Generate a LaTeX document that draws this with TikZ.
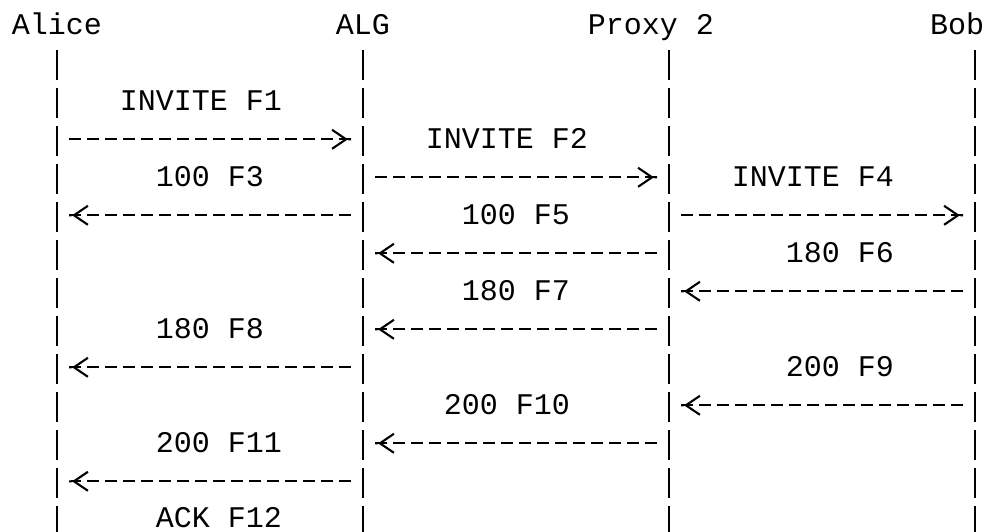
\documentclass[tikz,border=0pt]{standalone}
\usepackage{fontspec}
\newfontfamily\seqmono{Liberation Mono}
\usepackage{tikz}
\usetikzlibrary{arrows.meta}

\begin{document}
\begin{tikzpicture}[
    x=18pt, y=-38pt,
    font={\seqmono\fontsize{30pt}{36pt}\selectfont},
    party/.style={inner sep=0pt, anchor=base, text depth=15.5pt},
    msglabel/.style={inner sep=0pt, anchor=base, text depth=28.5pt},
    life/.style={line width=2.1pt, dash pattern=on 30pt off 8pt},
    msg/.style={-{Straight Barb[length=14pt, width=19pt, line width=2.1pt, sep=2pt] Butt Cap}, line width=2.1pt,
      dash pattern=on 12pt off 6pt, shorten <=12pt, shorten >=12pt},
  ]
    \useasboundingbox (-0.1667,-0.7105) rectangle (54.778,13.2895);

    \node[party] (alice) at (3,0.2) {Alice};
    \node[party] (alg) at (20,0.2) {ALG};
    \node[party] (proxy) at (36,0.2) {Proxy 2};
    \node[party] (bob) at (53,0.2) {Bob};

    \coordinate (alicebot) at (3,14);
    \coordinate (algbot) at (20,14);
    \coordinate (proxybot) at (37,14);
    \coordinate (bobbot) at (54,14);

    \draw[life] (alice.south -| alicebot) -- (alicebot);
    \draw[life] (alg.south -| algbot) -- (algbot);
    \draw[life] (proxy.south -| proxybot) -- (proxybot);
    \draw[life] (bob.south -| bobbot) -- (bobbot);

    \node[msglabel] (f1) at (11,2.2) {INVITE F1};
    \draw[msg] (alicebot |- f1.south) -- (algbot |- f1.south);
    \node[msglabel] (f2) at (28,3.2) {INVITE F2};
    \draw[msg] (algbot |- f2.south) -- (proxybot |- f2.south);
    \node[msglabel] (f3) at (11.5,4.2) {100 F3};
    \draw[msg] (algbot |- f3.south) -- (alicebot |- f3.south);
    \node[msglabel] (f4) at (45,4.2) {INVITE F4};
    \draw[msg] (proxybot |- f4.south) -- (bobbot |- f4.south);
    \node[msglabel] (f5) at (28.5,5.2) {100 F5};
    \draw[msg] (proxybot |- f5.south) -- (algbot |- f5.south);
    \node[msglabel] (f6) at (46.5,6.2) {180 F6};
    \draw[msg] (bobbot |- f6.south) -- (proxybot |- f6.south);
    \node[msglabel] (f7) at (28.5,7.2) {180 F7};
    \draw[msg] (proxybot |- f7.south) -- (algbot |- f7.south);
    \node[msglabel] (f8) at (11.5,8.2) {180 F8};
    \draw[msg] (algbot |- f8.south) -- (alicebot |- f8.south);
    \node[msglabel] (f9) at (46.5,9.2) {200 F9};
    \draw[msg] (bobbot |- f9.south) -- (proxybot |- f9.south);
    \node[msglabel] (f10) at (28,10.2) {200 F10};
    \draw[msg] (proxybot |- f10.south) -- (algbot |- f10.south);
    \node[msglabel] (f11) at (12,11.2) {200 F11};
    \draw[msg] (algbot |- f11.south) -- (alicebot |- f11.south);
    \node[msglabel, text depth=0pt] (f12) at (12,13.17) {ACK F12};
  \end{tikzpicture}
\end{document}
